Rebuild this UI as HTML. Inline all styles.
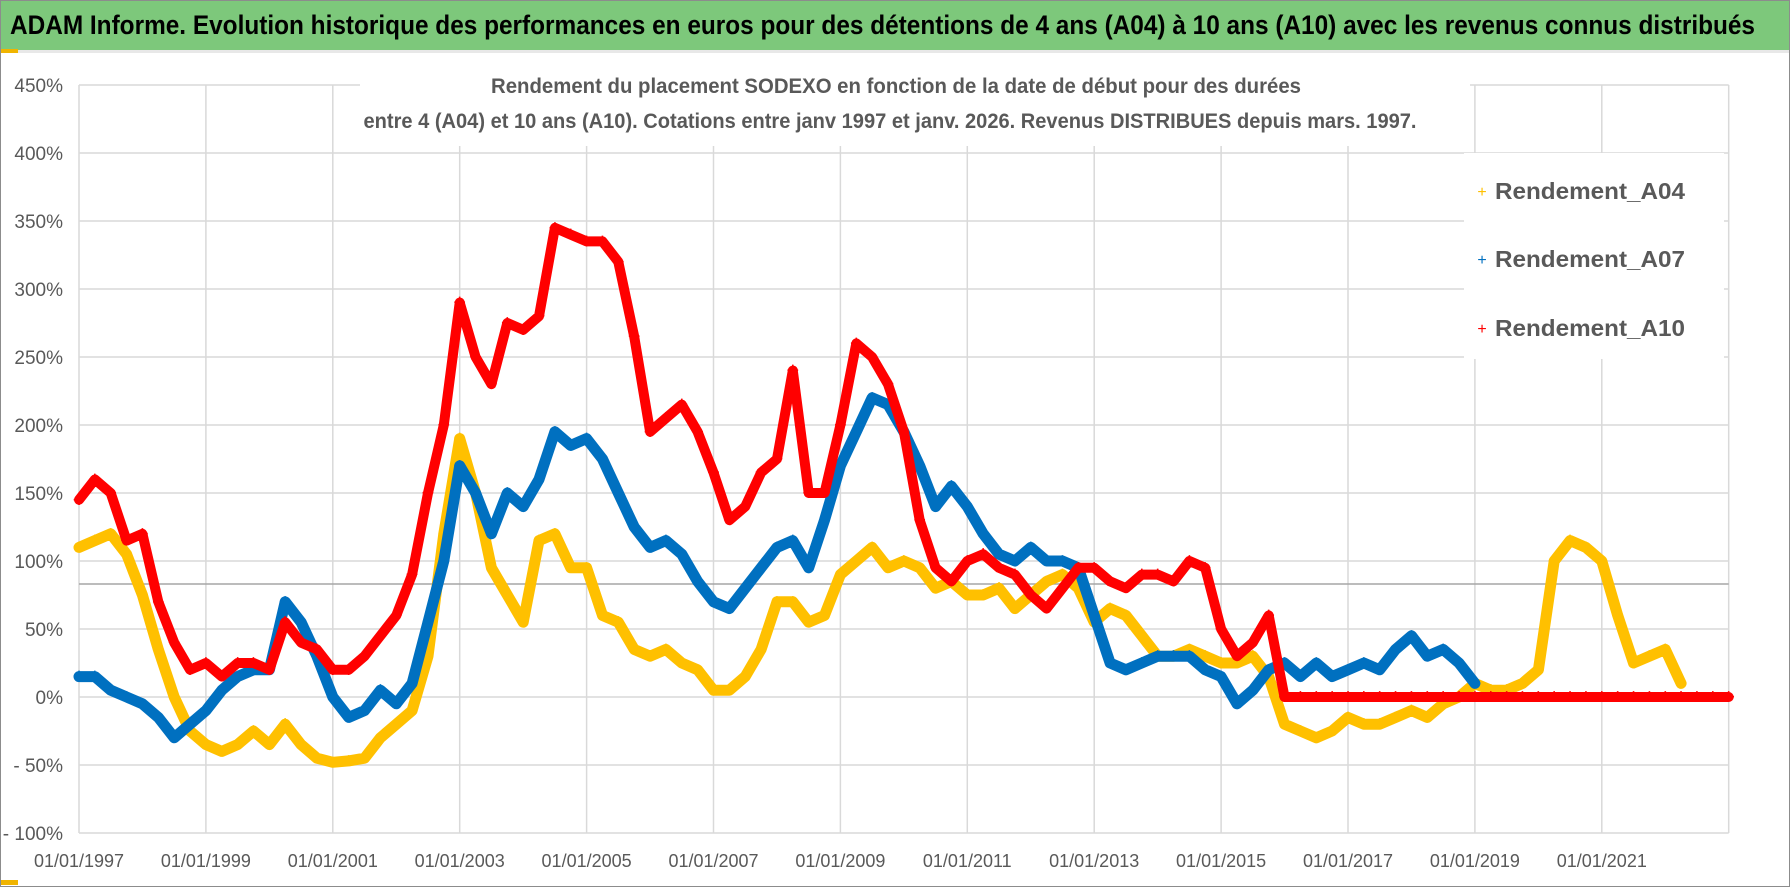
<!DOCTYPE html>
<html><head><meta charset="utf-8"><style>
html,body{margin:0;padding:0;background:#fff;}
svg{display:block;font-family:"Liberation Sans",sans-serif;}
</style></head><body>
<svg id="chart" width="1790" height="887" viewBox="0 0 1790 887">
<rect x="0.5" y="0.5" width="1789" height="886" fill="#fff" stroke="#8c8c8c"/>
<rect x="1" y="1" width="1788" height="49" fill="#7dc87b"/>
<rect x="1" y="50" width="1788" height="3" fill="#e8e8e8"/>
<rect x="1" y="49" width="17" height="4" fill="#f0b400"/>
<text x="10" y="34" font-size="27" font-weight="bold" fill="#000" textLength="1745" lengthAdjust="spacingAndGlyphs">ADAM Informe. Evolution historique des performances en euros pour des détentions de 4 ans (A04) à 10 ans (A10) avec les revenus connus distribués</text>
<g id="grid"></g>
<g id="series"></g>
<rect x="360" y="62" width="1110" height="84" fill="#fff"/>
<text x="896" y="93" font-size="21" font-weight="bold" fill="#595959" text-anchor="middle" textLength="810" lengthAdjust="spacingAndGlyphs">Rendement du placement SODEXO en fonction de la date de début pour des durées</text>
<text x="890" y="128" font-size="21" font-weight="bold" fill="#595959" text-anchor="middle" textLength="1053" lengthAdjust="spacingAndGlyphs">entre 4 (A04) et 10 ans (A10).  Cotations entre janv 1997 et janv. 2026. Revenus DISTRIBUES depuis mars. 1997.</text>
<g>
<rect x="1464" y="153" width="260" height="206" fill="#fff"/>
<g><text x="1482" y="197" font-size="16" fill="#ffc000" text-anchor="middle">+</text><text x="1495" y="199" font-size="23" font-weight="bold" fill="#595959" textLength="190" lengthAdjust="spacingAndGlyphs">Rendement_A04</text></g>
<g><text x="1482" y="265" font-size="16" fill="#0070c0" text-anchor="middle">+</text><text x="1495" y="267" font-size="23" font-weight="bold" fill="#595959" textLength="190" lengthAdjust="spacingAndGlyphs">Rendement_A07</text></g>
<g><text x="1482" y="334" font-size="16" fill="#ff0000" text-anchor="middle">+</text><text x="1495" y="336" font-size="23" font-weight="bold" fill="#595959" textLength="190" lengthAdjust="spacingAndGlyphs">Rendement_A10</text></g>
</g>
<rect x="1" y="880" width="17" height="5" fill="#f0b400"/>
</svg>
<script>
const startYear = 1997;
const stepYears = 0.25;
const yTicks = [450,400,350,300,250,200,150,100,50,0,-50,-100];
const yTickLabels = ["450%","400%","350%","300%","250%","200%","150%","100%","50%","0%","- 50%","- 100%"];
const xTicks = [1997,1999,2001,2003,2005,2007,2009,2011,2013,2015,2017,2019,2021];
const xTickLabels = ["01/01/1997","01/01/1999","01/01/2001","01/01/2003","01/01/2005","01/01/2007","01/01/2009","01/01/2011","01/01/2013","01/01/2015","01/01/2017","01/01/2019","01/01/2021"];
const a04 = [110,115,120,105,75,35,0,-25,-35,-40,-35,-25,-35,-20,-35,-45,-48,-47,-45,-30,-20,-10,30,120,190,150,95,75,55,115,120,95,95,60,55,35,30,35,25,20,5,5,15,35,70,70,55,60,90,100,110,95,100,95,80,85,75,75,80,65,75,85,90,80,55,65,60,45,30,30,35,30,25,25,30,15,-20,-25,-30,-25,-15,-20,-20,-15,-10,-15,-5,0,10,5,5,10,20,100,115,110,100,60,25,30,35,10];
const a07 = [15,15,5,0,-5,-15,-30,-20,-10,5,15,20,20,70,55,30,0,-15,-10,5,-5,10,55,100,170,150,120,150,140,160,195,185,190,175,150,125,110,115,105,85,70,65,80,95,110,115,95,130,170,195,220,215,195,170,140,155,140,120,105,100,110,100,100,95,60,25,20,25,30,30,30,20,15,-5,5,20,25,15,25,15,20,25,20,35,45,30,35,25,10];
const a10 = [145,160,150,115,120,70,40,20,25,15,25,25,20,55,40,35,20,20,30,45,60,90,150,200,290,250,230,275,270,280,345,340,335,335,320,265,195,205,215,195,165,130,140,165,175,240,150,150,200,260,250,230,195,130,95,85,100,105,95,90,75,65,80,95,95,85,80,90,90,85,100,95,50,30,40,60,0,0,0,0,0,0,0,0,0,0,0,0,0,0,0,0,0,0,0,0,0,0,0,0,0,0,0,0,0];
const seriesColors = {a04:"#ffc000", a07:"#0070c0", a10:"#ff0000"};

const NS = "http://www.w3.org/2000/svg";
const X0 = 79, XPY = 63.45, Y0 = 697, YPP = 1.36;
function xScale(t){ return X0 + (t - 1997) * XPY; }
function yScale(v){ return Y0 - v * YPP; }
const grid = document.getElementById('grid');
const plotLeft = xScale(1997), plotRight = xScale(2023);
for (let i = 0; i < yTicks.length; i++) {
  const y = yScale(yTicks[i]);
  const l = document.createElementNS(NS,'line');
  l.setAttribute('x1', plotLeft); l.setAttribute('x2', plotRight);
  l.setAttribute('y1', y); l.setAttribute('y2', y);
  l.setAttribute('stroke', '#d9d9d9'); l.setAttribute('stroke-width', 1.5);
  
  
  grid.appendChild(l);
  const t = document.createElementNS(NS,'text');
  t.setAttribute('x', 63); t.setAttribute('y', y + 7);
  t.setAttribute('text-anchor', 'end'); t.setAttribute('font-size', '19'); t.setAttribute('fill', '#595959');
  t.textContent = yTickLabels[i];
  
  
  grid.appendChild(t);
}
const xs = xTicks.concat([2023]);
for (let i = 0; i < xs.length; i++) {
  const x = xScale(xs[i]);
  const l = document.createElementNS(NS,'line');
  l.setAttribute('x1', x); l.setAttribute('x2', x);
  l.setAttribute('y1', yScale(450)); l.setAttribute('y2', yScale(-100));
  l.setAttribute('stroke', '#d9d9d9'); l.setAttribute('stroke-width', 1.5);
  
  
  grid.appendChild(l);
  if (i < xTickLabels.length) {
    const t = document.createElementNS(NS,'text');
    t.setAttribute('x', x); t.setAttribute('y', 867);
    t.setAttribute('text-anchor', 'middle'); t.setAttribute('font-size', '18'); t.setAttribute('fill', '#595959');
    t.textContent = xTickLabels[i];
    
    
    grid.appendChild(t);
  }
}
const ref = document.createElementNS(NS,'line');
ref.setAttribute('x1', plotLeft); ref.setAttribute('x2', plotRight);
ref.setAttribute('y1', 584); ref.setAttribute('y2', 584);
ref.setAttribute('stroke', '#a6a6a6'); ref.setAttribute('stroke-width', 1.5);


grid.appendChild(ref);

const sg = document.getElementById('series');
function drawSeries(vals, color, name, width) {
  const g = document.createElementNS(NS,'g');
  
  
  const pts = vals.map((v,i) => xScale(startYear + i*stepYears).toFixed(1) + ',' + yScale(v).toFixed(1)).join(' ');
  const pl = document.createElementNS(NS,'polyline');
  pl.setAttribute('points', pts);
  pl.setAttribute('fill', 'none'); pl.setAttribute('stroke', color);
  pl.setAttribute('stroke-width', width); pl.setAttribute('stroke-linejoin', 'round'); pl.setAttribute('stroke-linecap', 'round');
  
  
  g.appendChild(pl);
  vals.forEach((v,i) => {
    const t = document.createElementNS(NS,'text');
    t.setAttribute('x', xScale(startYear + i*stepYears)); t.setAttribute('y', yScale(v) + 7);
    t.setAttribute('text-anchor', 'middle'); t.setAttribute('font-size', '22'); t.setAttribute('fill', color);
    t.textContent = '+';
    
    
    g.appendChild(t);
  });
  sg.appendChild(g);
}
drawSeries(a04, seriesColors.a04, 'a04', 11);
drawSeries(a07, seriesColors.a07, 'a07', 11);
drawSeries(a10, seriesColors.a10, 'a10', 10);
</script>
</body></html>
